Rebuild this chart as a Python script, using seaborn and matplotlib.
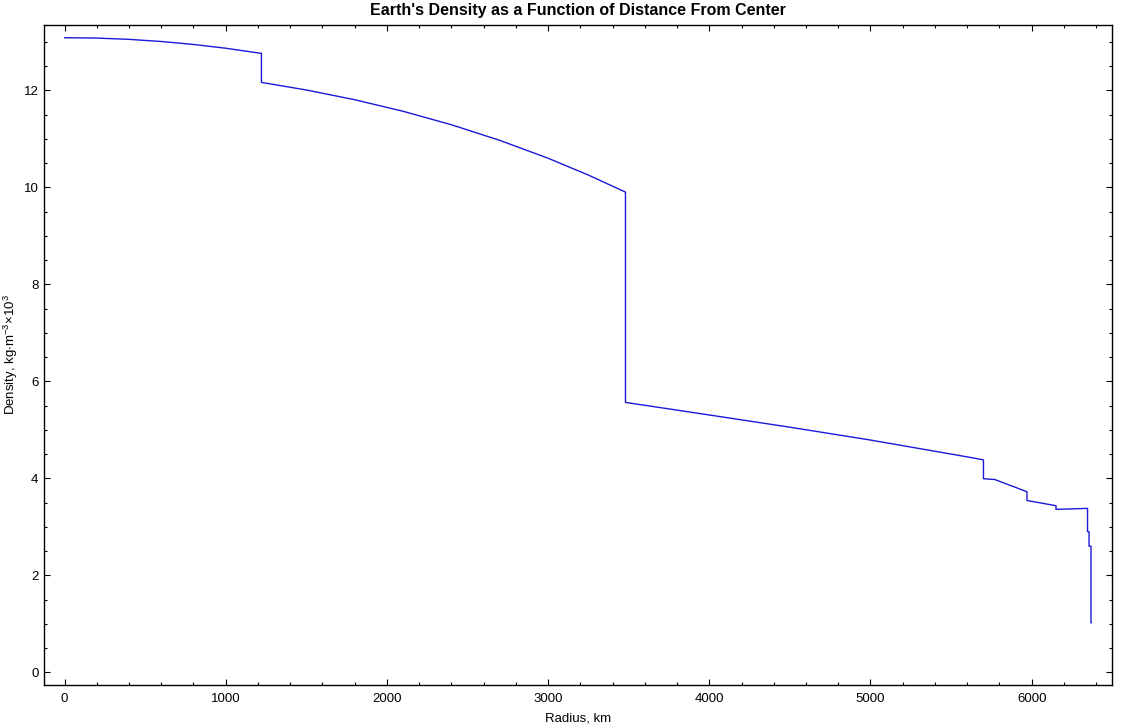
# Earth's density vs. radius (PREM-like profile), redrawn with seaborn
import numpy as np
import pandas as pd
import matplotlib
matplotlib.use("Agg")
import matplotlib.pyplot as plt
from matplotlib.ticker import MultipleLocator
import seaborn as sns

# values (radius in km, density in kg/m^3 x 10^3)
# repeated radii give the vertical jumps at each boundary
radius = [0, 200, 400, 600, 800, 1000, 1221.5,
          1221.5, 1500, 1800, 2100, 2400, 2700, 3000, 3250, 3480,
          3480, 3630, 4000, 4500, 5000, 5600, 5701,
          5701, 5771, 5971,
          5971, 6151,
          6151, 6291, 6346.6,
          6346.6, 6356,
          6356, 6368,
          6368, 6371]
density = [13.088, 13.080, 13.054, 13.010, 12.949, 12.871, 12.764,
           12.166, 12.010, 11.809, 11.571, 11.293, 10.971, 10.602, 10.255, 9.904,
           5.566, 5.492, 5.307, 5.055, 4.790, 4.443, 4.381,
           3.992, 3.976, 3.724,
           3.543, 3.436,
           3.360, 3.375, 3.381,
           2.900, 2.900,
           2.600, 2.600,
           1.020, 1.020]

title = "Earth's Density as a Function of Distance From Center"
xlabel = "Radius, km"
ylabel = r"Density, kg$\cdot$m$^{-3}$$\times$10$^{3}$"

df = pd.DataFrame({"radius": radius, "density": density})

sns.set_style("ticks")
plt.rcParams["font.family"] = ["Liberation Sans", "DejaVu Sans"]
plt.rcParams["mathtext.fontset"] = "custom"
plt.rcParams["mathtext.rm"] = "Liberation Sans"
plt.rcParams["mathtext.it"] = "Liberation Sans"
plt.rcParams["mathtext.default"] = "regular"
for key in ["text.color", "axes.labelcolor", "xtick.color", "ytick.color"]:
    plt.rcParams[key] = "black"

fig = plt.figure(figsize=(11.32, 7.27), dpi=100)
ax = fig.add_axes([44 / 1132, 1 - 685 / 727, (1112 - 44) / 1132, (685 - 25) / 727])

sns.lineplot(data=df, x="radius", y="density", estimator=None, sort=False,
             color="#1a1ad6", linewidth=1.0, ax=ax)

# 2% padding like the original plot range
ax.set_xlim(-127.4, 6498.4)
ax.set_ylim(-0.262, 13.35)

ax.xaxis.set_major_locator(MultipleLocator(1000))
ax.xaxis.set_minor_locator(MultipleLocator(200))
ax.yaxis.set_major_locator(MultipleLocator(2))
ax.yaxis.set_minor_locator(MultipleLocator(0.5))

ax.tick_params(which="both", direction="in", top=True, right=True,
               width=0.8, color="black", labelsize=9.5)
ax.tick_params(axis="x", pad=6)
ax.tick_params(axis="y", pad=4)
ax.tick_params(which="major", length=4.5)
ax.tick_params(which="minor", length=2.5)
for side in ax.spines.values():
    side.set_linewidth(1.0)
    side.set_color("black")

ax.set_title(title, fontsize=11.5, fontweight="bold", pad=7)
ax.set_xlabel(xlabel, fontsize=9.5, labelpad=5)
ax.set_ylabel(ylabel, fontsize=9.5)
ax.yaxis.set_label_coords(-0.0225, 0.5)

fig.savefig("out.png", dpi=100)
